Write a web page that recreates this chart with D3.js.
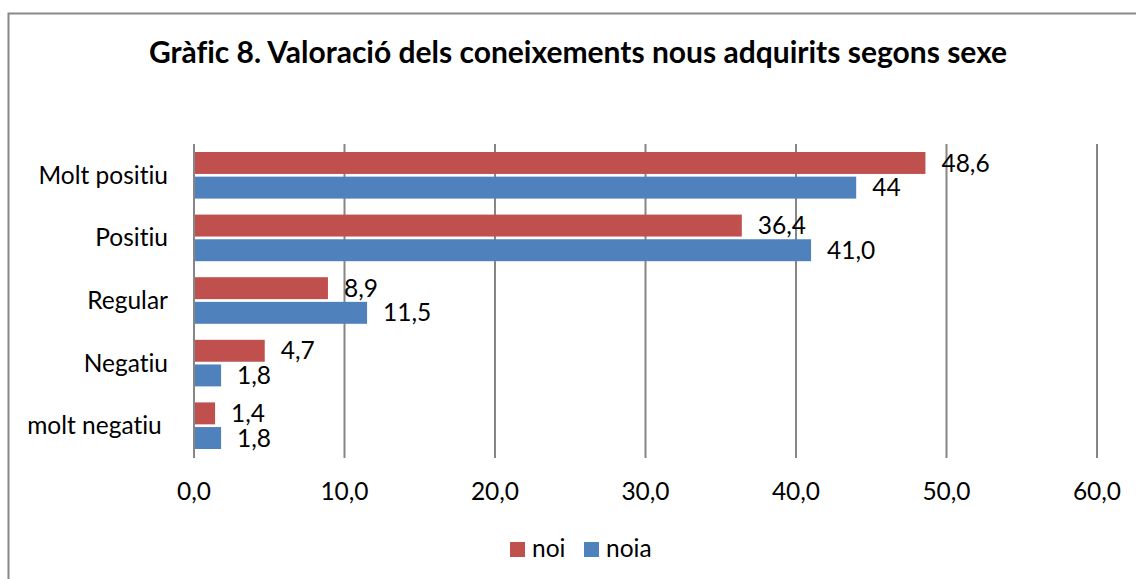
<!DOCTYPE html>
<html>
<head>
<meta charset="utf-8">
<title>Gràfic 8</title>
<style>
  body { margin: 0; background: #fff; }
  svg { display: block; font-family: Lato, "Open Sans", sans-serif; font-variant-ligatures: none; }
  .grid line { stroke: #868686; stroke-width: 2; }
  .lbl { font-size: 24.5px; fill: #000; }
</style>
<script src="https://d3js.org/d3.v7.min.js"></script>
</head>
<body>
<svg width="1136" height="579"></svg>
<script>
var categories = ["Molt positiu", "Positiu", "Regular", "Negatiu", "molt negatiu "];
var noi = [48.6, 36.4, 8.9, 4.7, 1.4];
var noia = [44, 41.0, 11.5, 1.8, 1.8];
var noiLabels = ["48,6", "36,4", "8,9", "4,7", "1,4"];
var noiaLabels = ["44", "41,0", "11,5", "1,8", "1,8"];
var ticks = [0, 10, 20, 30, 40, 50, 60];
var series = [
  { name: "noi", values: noi, labels: noiLabels, color: "#C0504D" },
  { name: "noia", values: noia, labels: noiaLabels, color: "#4F81BD" }
];

var svg = d3.select("svg");

svg.append("rect")
    .attr("x", 8.5).attr("y", 13.5)
    .attr("width", 1140).attr("height", 600)
    .attr("fill", "#fff").attr("stroke", "#888").attr("stroke-width", 2);

svg.append("text")
    .attr("x", 578).attr("y", 63)
    .attr("text-anchor", "middle")
    .attr("font-weight", "bold")
    .attr("font-size", 30)
    .text("Gràfic 8. Valoració dels coneixements nous adquirits segons sexe");

var x = d3.scaleLinear().domain([0, 60]).range([194, 1097]);
var y = d3.scaleBand().domain(categories).range([144, 457]);
var yInner = d3.scaleBand().domain(["noi", "noia"]).range([8, y.bandwidth() - 8]).paddingInner(0.11);

// gridlines
svg.append("g").attr("class", "grid")
  .selectAll("line").data(ticks).enter().append("line")
    .attr("x1", d => x(d)).attr("x2", d => x(d))
    .attr("y1", 144).attr("y2", 458);

// x tick labels
svg.append("g").selectAll("text").data(ticks).enter().append("text")
    .attr("class", "lbl")
    .attr("x", d => x(d)).attr("y", 500)
    .attr("text-anchor", "middle")
    .text(d => d.toFixed(1).replace(".", ","));

// category labels
svg.append("g").selectAll("text").data(categories).enter().append("text")
    .attr("class", "lbl")
    .style("white-space", "pre")
    .attr("x", 168)
    .attr("y", d => y(d) + y.bandwidth() / 2)
    .attr("dy", "0.35em")
    .attr("text-anchor", "end")
    .text(d => d);

// bars
series.forEach(function(s) {
  var g = svg.append("g");
  g.selectAll("rect").data(categories).enter().append("rect")
      .attr("x", x(0) + 1)
      .attr("y", d => y(d) + yInner(s.name))
      .attr("width", (d, i) => x(s.values[i]) - x(0) - 1)
      .attr("height", yInner.bandwidth())
      .attr("fill", s.color);
  g.selectAll("text").data(categories).enter().append("text")
      .attr("class", "lbl")
      .attr("x", (d, i) => x(s.values[i]) + 16)
      .attr("y", d => y(d) + yInner(s.name) + yInner.bandwidth() / 2)
      .attr("dy", "0.35em")
      .text((d, i) => s.labels[i]);
});

// legend
var legend = svg.append("g");
var lx = [510, 584];
series.forEach(function(s, i) {
  legend.append("rect")
      .attr("x", lx[i]).attr("y", 542)
      .attr("width", 15).attr("height", 15)
      .attr("fill", s.color);
  legend.append("text")
      .attr("class", "lbl")
      .attr("x", lx[i] + 22).attr("y", 557)
      .text(s.name);
});
</script>
</body>
</html>
